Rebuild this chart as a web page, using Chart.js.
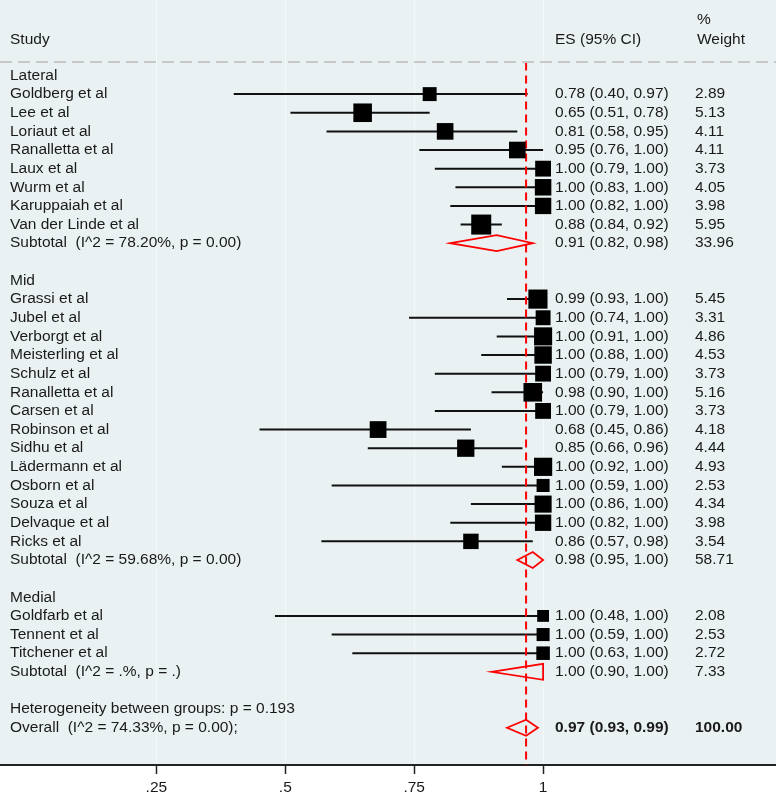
<!DOCTYPE html>
<html><head><meta charset="utf-8">
<script src="https://cdn.jsdelivr.net/npm/chart.js@4"></script>
<style>html,body{margin:0;padding:0;background:#fff}#wrap{width:776px;height:800px;position:relative}</style>
</head><body><div id="wrap"><canvas id="c" width="776" height="800"></canvas></div>
<script>
// ---------------- data ----------------
const groupNames = ['Lateral', 'Mid', 'Medial'];
const studyNames = [
  'Goldberg et al', 'Lee et al', 'Loriaut et al', 'Ranalletta et al', 'Laux et al', 'Wurm et al', 'Karuppaiah et al', 'Van der Linde et al',
  'Grassi et al', 'Jubel et al', 'Verborgt et al', 'Meisterling et al', 'Schulz et al', 'Ranalletta et al', 'Carsen et al', 'Robinson et al',
  'Sidhu et al', 'Lädermann et al', 'Osborn et al', 'Souza et al', 'Delvaque et al', 'Ricks et al',
  'Goldfarb et al', 'Tennent et al', 'Titchener et al'
];
const studyGroup = [0,0,0,0,0,0,0,0, 1,1,1,1,1,1,1,1,1,1,1,1,1,1, 2,2,2];
const studyES  = [0.78,0.65,0.81,0.95,1.00,1.00,1.00,0.88, 0.99,1.00,1.00,1.00,1.00,0.98,1.00,0.68,0.85,1.00,1.00,1.00,1.00,0.86, 1.00,1.00,1.00];
const studyLow = [0.40,0.51,0.58,0.76,0.79,0.83,0.82,0.84, 0.93,0.74,0.91,0.88,0.79,0.90,0.79,0.45,0.66,0.92,0.59,0.86,0.82,0.57, 0.48,0.59,0.63];
const studyHigh= [0.97,0.78,0.95,1.00,1.00,1.00,1.00,0.92, 1.00,1.00,1.00,1.00,1.00,1.00,1.00,0.86,0.96,1.00,1.00,1.00,1.00,0.98, 1.00,1.00,1.00];
const studyWeight = [2.89,5.13,4.11,4.11,3.73,4.05,3.98,5.95, 5.45,3.31,4.86,4.53,3.73,5.16,3.73,4.18,4.44,4.93,2.53,4.34,3.98,3.54, 2.08,2.53,2.72];

const subtotalLabels = ['Subtotal  (I^2 = 78.20%, p = 0.00)', 'Subtotal  (I^2 = 59.68%, p = 0.00)', 'Subtotal  (I^2 = .%, p = .)'];
const subtotalES   = [0.91, 0.98, 1.00];
const subtotalLow  = [0.82, 0.95, 0.90];
const subtotalHigh = [0.98, 1.00, 1.00];
const subtotalWeight = [33.96, 58.71, 7.33];

const heterogeneityText = 'Heterogeneity between groups: p = 0.193';
const overallLabel = 'Overall  (I^2 = 74.33%, p = 0.00);';
const overallES = 0.967, overallLow = 0.93, overallHigh = 0.99, overallWeight = 100.00;

const tickValues = [0.25, 0.5, 0.75, 1];
const tickLabels = ['.25', '.5', '.75', '1'];

// ---------------- layout rows ----------------
const rows = [];
let r = 0;
groupNames.forEach((g, gi) => {
  rows.push({type: 'group', label: g, r: r++});
  studyNames.forEach((s, i) => {
    if (studyGroup[i] === gi) rows.push({type: 'study', label: s, es: studyES[i], lo: studyLow[i], hi: studyHigh[i], w: studyWeight[i], r: r++});
  });
  rows.push({type: 'subtotal', label: subtotalLabels[gi], es: subtotalES[gi], lo: subtotalLow[gi], hi: subtotalHigh[gi], w: subtotalWeight[gi], r: r++});
  r++;
});
rows.push({type: 'het', label: heterogeneityText, r: r++});
rows.push({type: 'overall', label: overallLabel, es: overallES, lo: overallLow, hi: overallHigh, w: overallWeight, r: r++});

const FONT = '"Liberation Sans", Arial, sans-serif';
const FS = 15.5;
const studyRows = rows.filter(o => o.type === 'study');
const Y_MIN = -4.05, Y_MAX = 37.0;

const datasets = [];
studyRows.forEach(o => {
  datasets.push({
    data: [{x: o.lo, y: o.r}, {x: o.hi, y: o.r}],
    showLine: true, pointRadius: 0, borderColor: '#111', borderWidth: 2, order: 3
  });
});
datasets.push({
  data: [{x: overallES, y: -0.7}, {x: overallES, y: Y_MAX}],
  showLine: true, pointRadius: 0, borderColor: '#ff0000', borderWidth: 2, borderDash: [8, 5], order: 2
});
datasets.push({
  data: studyRows.map(o => ({x: o.es, y: o.r})),
  pointStyle: 'rect',
  pointRadius: studyRows.map(o => 8.2 * Math.sqrt(o.w) / Math.SQRT2),
  backgroundColor: '#000', borderColor: '#000', borderWidth: 0, order: 1
});

const forestPlugin = {
  id: 'forest',
  beforeDraw(chart) {
    const {ctx, chartArea: a} = chart;
    ctx.save();
    ctx.fillStyle = '#eaf1f3';
    ctx.fillRect(a.left, a.top, a.right - a.left, a.bottom - a.top);
    ctx.restore();
  },
  afterDatasetsDraw(chart) {
    const {ctx} = chart;
    const xs = chart.scales.x, ys = chart.scales.y;
    ctx.save();
    // header dashed line
    ctx.strokeStyle = '#c8c8c8'; ctx.lineWidth = 2; ctx.setLineDash([12, 6]);
    ctx.beginPath(); ctx.moveTo(0, 62); ctx.lineTo(776, 62); ctx.stroke();
    ctx.setLineDash([]);
    // diamonds
    ctx.strokeStyle = '#ff0000'; ctx.lineWidth = 1.8; ctx.lineJoin = 'miter';
    rows.filter(o => o.type === 'subtotal' || o.type === 'overall').forEach(o => {
      const y = ys.getPixelForValue(o.r);
      ctx.beginPath();
      ctx.moveTo(xs.getPixelForValue(o.lo), y);
      ctx.lineTo(xs.getPixelForValue(o.es), y - 8);
      ctx.lineTo(xs.getPixelForValue(o.hi), y);
      ctx.lineTo(xs.getPixelForValue(o.es), y + 8);
      ctx.closePath(); ctx.stroke();
    });
    // text
    ctx.fillStyle = '#1a1a1a'; ctx.textBaseline = 'middle'; ctx.textAlign = 'left';
    ctx.font = FS + 'px ' + FONT;
    ctx.fillText('Study', 10, 40);
    ctx.fillText('ES (95% CI)', 555, 40);
    ctx.fillText('%', 697, 20);
    ctx.fillText('Weight', 697, 40);
    rows.forEach(o => {
      const y = ys.getPixelForValue(o.r);
      ctx.font = FS + 'px ' + FONT;
      ctx.fillText(o.label, 10, y);
      if (o.es !== undefined) {
        if (o.type === 'overall') ctx.font = 'bold ' + FS + 'px ' + FONT;
        ctx.fillText(o.es.toFixed(2) + ' (' + o.lo.toFixed(2) + ', ' + o.hi.toFixed(2) + ')', 555, y);
        ctx.fillText(o.w.toFixed(2), 695, y);
      }
    });
    ctx.restore();
  }
};

new Chart(document.getElementById('c'), {
  type: 'scatter',
  data: {datasets},
  options: {
    responsive: false, animation: false, events: [],
    layout: {padding: 0, autoPadding: false},
    plugins: {legend: {display: false}, tooltip: {enabled: false}},
    scales: {
      x: {
        type: 'linear', min: -0.0533, max: 1.4517, position: 'bottom',
        afterBuildTicks: s => { s.ticks = tickValues.map(v => ({value: v})); },
        afterFit: s => { s.height = 35; },
        ticks: {callback: (v, i) => tickLabels[i], font: {size: FS, family: FONT}, color: '#1a1a1a', padding: 4, maxRotation: 0, autoSkip: false},
        grid: {color: 'rgba(255,255,255,0.5)', lineWidth: 1, tickLength: 9, tickColor: '#222', tickWidth: 1.5, drawOnChartArea: true},
        border: {color: '#222', width: 2}
      },
      y: {type: 'linear', reverse: true, min: Y_MIN, max: Y_MAX, display: false}
    }
  },
  plugins: [forestPlugin]
});
</script>
</body></html>
